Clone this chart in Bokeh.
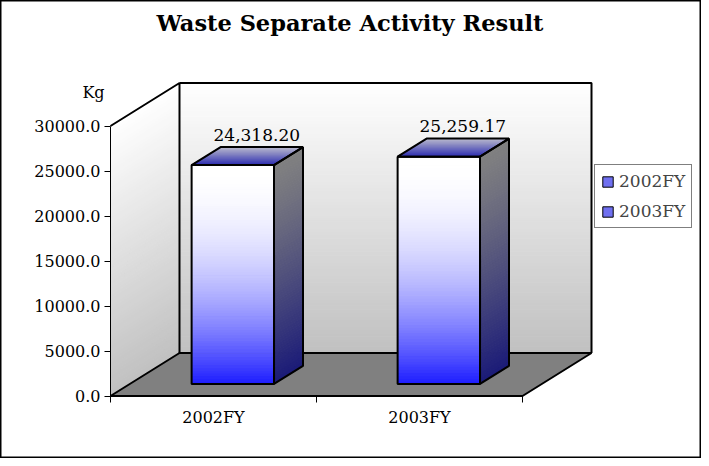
import numpy as np
from bokeh.plotting import figure
from bokeh.models import Range1d, FixedTicker, PrintfTickFormatter, Legend, LegendItem
from bokeh.core.properties import value
from bokeh.embed import file_html
from bokeh.resources import INLINE

# ---------------- data ----------------
categories = ["2002FY", "2003FY"]
amounts = [24318.20, 25259.17]
y_ticks = [0, 5000, 10000, 15000, 20000, 25000, 30000]
y_max = 30000
title_text = "Waste Separate Activity Result"
unit_text = "Kg"

# ---------------- layout constants ----------------
W, H = 701, 458
OX, OY = 8, 8                    # page margin
SX0, SXU = 118.0, 206.0          # screen x of category boundary 0, px per category
SY0, KY = 403.5, 270.0 / 30000   # screen y of value 0, px per value unit

def to_x(sx):
    return (sx - SX0) / SXU

def to_y(sy):
    return (SY0 - sy) / KY

DX = 69 / SXU        # depth offset (x units)
DZ = 43 / KY         # depth offset (value units)
F1, F2 = 0.28, 0.70  # bar front/back depth fractions
BAR_HALF = 0.2
N = 80
FONT = value("DejaVu Serif")

def hexcol(c):
    return "#%02x%02x%02x" % tuple(int(round(v)) for v in c)

def grad(c0, c1, t):
    c0 = np.array(c0, float)
    c1 = np.array(c1, float)
    return [hexcol(c0 + (c1 - c0) * ti) for ti in t]

p = figure(width=W, height=H, output_backend="svg", toolbar_location=None, title=None,
           x_range=Range1d(to_x(OX), to_x(OX + W)),
           y_range=Range1d(to_y(OY + H), to_y(OY)),
           min_border=0)
p.xgrid.visible = False
p.ygrid.visible = False
p.background_fill_color = "white"
p.border_fill_color = "white"
p.outline_line_color = "black"
p.outline_line_width = 2

# ---------------- walls ----------------
edges = np.linspace(0, y_max, N + 1)
t_mid = (edges[:-1] + edges[1:]) / 2 / y_max          # 0 bottom -> 1 top
wall_cols = grad((192, 192, 192), (255, 255, 255), t_mid)

side_xs = [[0, DX, DX, 0] for _ in range(N)]
side_ys = [[a, a + DZ, b + DZ, b] for a, b in zip(edges[:-1], edges[1:])]
p.patches(side_xs, side_ys, fill_color=wall_cols, line_color=wall_cols, line_width=1)

p.quad(left=DX, right=len(categories) + DX, bottom=edges[:-1] + DZ, top=edges[1:] + DZ,
       fill_color=wall_cols, line_color=wall_cols, line_width=1)

# floor
nc = len(categories)
p.patch([0, nc, nc + DX, DX], [0, 0, DZ, DZ], fill_color="#808080",
        line_color="black", line_width=2)

# wall outlines
p.multi_line(xs=[[0, DX, DX], [DX, nc + DX, nc + DX]],
             ys=[[y_max, y_max + DZ, DZ], [y_max + DZ, y_max + DZ, DZ]],
             line_color="black", line_width=2)

# ---------------- bars ----------------
for i, v in enumerate(amounts):
    c = i + 0.5
    xl, xr = c - BAR_HALF, c + BAR_HALF
    be = np.linspace(0, v, N + 1)
    s = 1 - (be[:-1] + be[1:]) / 2 / v          # 0 top -> 1 bottom
    front_cols = grad((255, 255, 255), (28, 28, 255), s ** 2)
    p.quad(left=xl + F1 * DX, right=xr + F1 * DX,
           bottom=be[:-1] + F1 * DZ, top=be[1:] + F1 * DZ,
           fill_color=front_cols, line_color=front_cols, line_width=1)
    side_cols = grad((128, 128, 128), (26, 26, 120), s ** 1.2)
    p.patches([[xr + F1 * DX, xr + F2 * DX, xr + F2 * DX, xr + F1 * DX] for _ in range(N)],
              [[a + F1 * DZ, a + F2 * DZ, b + F2 * DZ, b + F1 * DZ] for a, b in zip(be[:-1], be[1:])],
              fill_color=side_cols, line_color=side_cols, line_width=1)
    fe = np.linspace(F1, F2, 31)
    fm = (fe[:-1] + fe[1:]) / 2
    top_cols = grad((40, 40, 176), (184, 184, 204), (fm - F1) / (F2 - F1))
    p.patches([[xl + a * DX, xr + a * DX, xr + b * DX, xl + b * DX] for a, b in zip(fe[:-1], fe[1:])],
              [[v + a * DZ, v + a * DZ, v + b * DZ, v + b * DZ] for a, b in zip(fe[:-1], fe[1:])],
              fill_color=top_cols, line_color=top_cols, line_width=1)
    # outlines
    p.patches([[xl + F1 * DX, xr + F1 * DX, xr + F1 * DX, xl + F1 * DX],
               [xr + F1 * DX, xr + F2 * DX, xr + F2 * DX, xr + F1 * DX],
               [xl + F1 * DX, xr + F1 * DX, xr + F2 * DX, xl + F2 * DX]],
              [[F1 * DZ, F1 * DZ, v + F1 * DZ, v + F1 * DZ],
               [F1 * DZ, F2 * DZ, v + F2 * DZ, v + F1 * DZ],
               [v + F1 * DZ, v + F1 * DZ, v + F2 * DZ, v + F2 * DZ]],
              fill_color=None, line_color="black", line_width=2)

# data labels
p.text(x=[i + 0.5 + 0.21 for i in range(nc)],
       y=[v + F2 * DZ + 12.5 / KY for v in amounts],
       text=[f"{v:,.2f}" for v in amounts],
       text_align="center", text_baseline="middle",
       text_font=FONT, text_font_size="17px", text_color="black")

# title and unit
p.text(x=[to_x(357.5)], y=[to_y(30)], text=[title_text], text_align="center",
       text_baseline="middle", text_font=FONT, text_font_size="22.5px",
       text_font_style="bold", text_color="black")
p.text(x=[to_x(101)], y=[to_y(100)], text=[unit_text], text_align="center",
       text_baseline="middle", text_font=FONT, text_font_size="16px", text_color="black")

# ---------------- axes ----------------
ya = p.yaxis[0]
ya.fixed_location = 0
ya.ticker = FixedTicker(ticks=y_ticks)
ya.formatter = PrintfTickFormatter(format="%.1f")
ya.bounds = (0, y_max)
ya.major_tick_out = 6
ya.major_tick_in = 0
ya.minor_tick_line_color = None
ya.major_label_standoff = 4
ya.major_label_text_font = "DejaVu Serif"
ya.major_label_text_font_size = "16px"
ya.major_label_text_color = "black"
ya.axis_line_color = "black"
ya.major_tick_line_color = "black"

xa = p.xaxis[0]
xa.fixed_location = 0
xa.ticker = FixedTicker(ticks=[i + 0.5 for i in range(nc)], minor_ticks=list(range(nc + 1)))
xa.major_label_overrides = {i + 0.5: cat for i, cat in enumerate(categories)}
xa.bounds = (0, nc)
xa.major_tick_line_color = None
xa.major_tick_out = 0
xa.major_tick_in = 0
xa.minor_tick_out = 6
xa.minor_tick_in = 0
xa.minor_tick_line_color = "black"
xa.major_label_standoff = 6
xa.major_label_text_font = "DejaVu Serif"
xa.major_label_text_font_size = "16px"
xa.major_label_text_color = "black"
xa.axis_line_color = "black"

# ---------------- legend ----------------
nan = float("nan")
items = []
for cat in categories:
    r = p.quad(left=[nan], right=[nan], top=[nan], bottom=[nan],
               fill_color="#7070f0", line_color="black", line_width=1)
    items.append(LegendItem(label=cat, renderers=[r]))
legend = Legend(items=items, location=(594, 230), glyph_width=13, glyph_height=13,
                label_text_font="DejaVu Serif", label_text_font_size="17px",
                label_standoff=5, padding=6, spacing=10, margin=0,
                border_line_color="black", border_line_width=1,
                background_fill_color="white", background_fill_alpha=1.0)
p.add_layout(legend)

open("out.html", "w").write(file_html(p, INLINE))
